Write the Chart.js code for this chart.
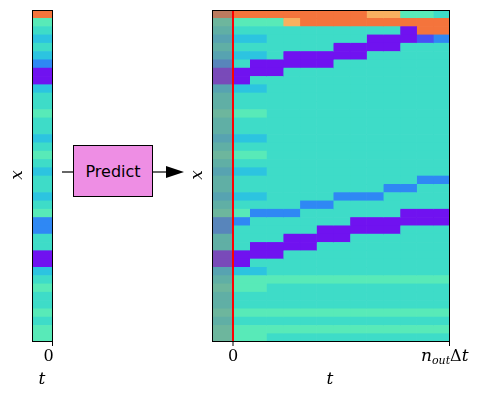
<!DOCTYPE html>
<html>
<head>
<meta charset="utf-8">
<script src="https://cdn.jsdelivr.net/npm/chart.js@4"></script>
<style>
  body { margin: 0; background: #fff; }
  #wrap { position: relative; width: 485px; height: 400px; }
  canvas { position: absolute; left: 0; top: 0; }
  #box { position: absolute; left: 73px; top: 145px; width: 78px; height: 50px; background: #ee8ee4;
         border: 1px solid #000; font: 16px "DejaVu Sans", sans-serif; display: flex;
         align-items: center; justify-content: center; }
  svg { position: absolute; left: 0; top: 0; }
</style>
</head>
<body>
<div id="wrap">
  <canvas id="left" width="485" height="400"></canvas>
  <canvas id="right" width="485" height="400"></canvas>
  <svg width="485" height="400">
    <line x1="62" y1="172" x2="73" y2="172" stroke="#000" stroke-width="1.2"/>
    <line x1="153" y1="172" x2="168" y2="172" stroke="#000" stroke-width="1.2"/>
    <polygon points="166,166 184,172 166,178" fill="#000"/>
  </svg>
  <div id="box">Predict</div>
</div>
<script>
// colour letters: o orange, y light orange, g green, c cyan, l light blue, b blue, m blue-violet, p purple
const palette = { o: '#f4743c', y: '#f8b060', g: '#58eab8', c: '#3edcc8', l: '#2cc4e0', b: '#2f88f4', m: '#4a4ef6', p: '#7012f0' };

const nRows = 40;
// input state u(x, t=0), top to bottom
const inputProfile = 'ogclclbppl' + 'ccgcclcgcl' + 'cclcgbbccp' + 'plcgccgcgg';
// background of the predicted field
const predBase = 'ccccccccccccccccccccccccccccccccgcccgcgc';
// predicted time columns (fractions of n_out*dt)
const tEdges = [0, 1/13, 2/13, 3/13, 4/13, 5/13, 6/13, 7/13, 8/13, 9/13, 10/13, 11/13, 12/13, 1];
const inputStart = -0.0968;
// band rows per predicted column
const upperBand = [[7,8],[6,7],[6,7],[5,6],[5,6],[5,6],[4,5],[4,5],[3,4],[3,4],[2,3],[3],[3]];
const upperColor = ['p','p','p','p','p','p','p','p','p','p','p','m','b'];
const lowerBand = [[29,30],[28,29],[28,29],[27,28],[27,28],[26,27],[26,27],[25,26],[25,26],[25,26],[24,25],[24,25],[24,25]];
const faintBand = [25,24,24,24,23,23,22,22,22,21,21,20,20];
const topRows = ['og','og','og','oy','oo','oo','oo','oo','yo','yo','go','goo','coo'];

const rowLabels = Array.from({ length: nRows }, (_, i) => i);

function columnColors(k) {
  const col = predBase.split('');
  if (k < 2) {
    for (let r = 0; r < nRows; r++) if ('lg'.includes(inputProfile[r])) col[r] = inputProfile[r];
  }
  topRows[k].split('').forEach((ch, r) => { col[r] = ch; });
  col[faintBand[k]] = 'b';
  upperBand[k].forEach(r => { col[r] = upperColor[k]; });
  lowerBand[k].forEach(r => { col[r] = 'p'; });
  return col.map(ch => palette[ch]);
}

function segment(t0, t1, colors) {
  return {
    data: rowLabels.map(() => [t0, t1]),
    backgroundColor: colors,
    barPercentage: 1,
    categoryPercentage: 1,
    borderWidth: 0
  };
}

const serif = 'italic 17px "DejaVu Serif", serif';
const tickFont = '16px "DejaVu Serif", serif';

function frame(ctx, a) {
  ctx.strokeStyle = '#000';
  ctx.lineWidth = 1;
  ctx.strokeRect(a.left + 0.5, a.top + 0.5, a.right - a.left - 1, a.bottom - a.top - 1);
}

function tick(ctx, x, y) {
  ctx.beginPath();
  ctx.moveTo(x, y);
  ctx.lineTo(x, y + 4);
  ctx.stroke();
}

function yLabel(ctx, x, y) {
  ctx.save();
  ctx.translate(x, y);
  ctx.rotate(-Math.PI / 2);
  ctx.font = serif;
  ctx.textAlign = 'center';
  ctx.textBaseline = 'middle';
  ctx.fillStyle = '#000';
  ctx.fillText('x', 0, 0);
  ctx.restore();
}

const baseOptions = (padding) => ({
  indexAxis: 'y',
  responsive: false,
  animation: false,
  layout: { padding: padding },
  plugins: { legend: { display: false }, tooltip: { enabled: false } },
  scales: {
    y: { display: false, type: 'category', offset: true, grid: { display: false } },
    x: { display: false, type: 'linear' }
  }
});

// left: input strip
const leftOpts = baseOptions({ left: 32, right: 432, top: 10, bottom: 58 });
leftOpts.scales.x.min = -1;
leftOpts.scales.x.max = 0;
new Chart(document.getElementById('left'), {
  type: 'bar',
  data: { labels: rowLabels, datasets: [segment(-1, 0, inputProfile.split('').map(ch => palette[ch]))] },
  options: leftOpts,
  plugins: [{
    id: 'decorLeft',
    afterDraw(chart) {
      const ctx = chart.ctx, a = chart.chartArea, xs = chart.scales.x;
      frame(ctx, a);
      const x0 = xs.getPixelForValue(0) - 0.5;
      tick(ctx, x0, a.bottom);
      ctx.fillStyle = '#000';
      ctx.font = tickFont;
      ctx.textAlign = 'center';
      ctx.textBaseline = 'middle';
      ctx.fillText('0', x0 - 4, a.bottom + 15);
      ctx.font = serif;
      ctx.fillText('t', 42, a.bottom + 38);
      yLabel(ctx, 18, 175);
    }
  }]
});

// right: input + prediction
const rightDatasets = [segment(inputStart, 0, inputProfile.split('').map(ch => palette[ch]))];
for (let k = 0; k < tEdges.length - 1; k++) {
  rightDatasets.push(segment(tEdges[k], tEdges[k + 1], columnColors(k)));
}
const rightOpts = baseOptions({ left: 212, right: 35, top: 10, bottom: 58 });
rightOpts.scales.x.min = inputStart;
rightOpts.scales.x.max = 1;
rightOpts.datasets = { bar: { grouped: false } };
new Chart(document.getElementById('right'), {
  type: 'bar',
  data: { labels: rowLabels, datasets: rightDatasets },
  options: rightOpts,
  plugins: [{
    id: 'decorRight',
    afterDraw(chart) {
      const ctx = chart.ctx, a = chart.chartArea, xs = chart.scales.x;
      const x0 = xs.getPixelForValue(0), x1 = xs.getPixelForValue(1);
      ctx.fillStyle = 'rgba(130,130,130,0.5)';
      ctx.fillRect(a.left, a.top, x0 - a.left, a.bottom - a.top);
      ctx.strokeStyle = '#f00';
      ctx.lineWidth = 2;
      ctx.beginPath();
      ctx.moveTo(x0, a.top);
      ctx.lineTo(x0, a.bottom);
      ctx.stroke();
      frame(ctx, a);
      tick(ctx, x0, a.bottom);
      tick(ctx, x1 - 0.5, a.bottom);
      ctx.fillStyle = '#000';
      ctx.font = tickFont;
      ctx.textAlign = 'center';
      ctx.textBaseline = 'middle';
      const ty = a.bottom + 15;
      ctx.fillText('0', x0, ty);
      // n_out Δt
      ctx.textAlign = 'left';
      ctx.font = serif;
      let x = x1 - 29;
      ctx.fillText('n', x, ty);
      x += ctx.measureText('n').width;
      ctx.font = 'italic 11px "DejaVu Serif", serif';
      ctx.fillText('out', x, ty + 4);
      x += ctx.measureText('out').width;
      ctx.font = tickFont;
      ctx.fillText('Δ', x, ty);
      x += ctx.measureText('Δ').width;
      ctx.font = serif;
      ctx.fillText('t', x, ty);
      ctx.textAlign = 'center';
      ctx.fillText('t', 330, a.bottom + 38);
      yLabel(ctx, 198, 175);
    }
  }]
});
</script>
</body>
</html>
